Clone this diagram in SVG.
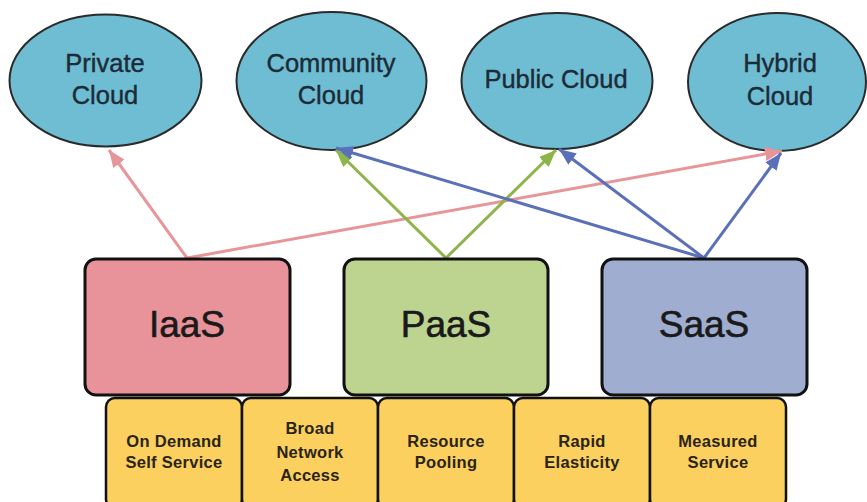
<svg xmlns="http://www.w3.org/2000/svg" width="867" height="502" viewBox="0 0 867 502">
<style>
.cloud{fill:#6fbdd2;stroke:#2a2a2a;stroke-width:2}
.ctext{font-family:"Liberation Sans",Arial,sans-serif;font-size:25.5px;fill:#1c2b38;stroke:#1c2b38;stroke-width:0.4;text-anchor:middle}
.svc{stroke:#111;stroke-width:3}
.stext{font-family:"Liberation Sans",Arial,sans-serif;font-size:37px;fill:#1a1a1a;stroke:#1a1a1a;stroke-width:0.6;text-anchor:middle}
.feat{fill:#fcd05e;stroke:#111;stroke-width:2.5}
.ftext{font-family:"Liberation Sans",Arial,sans-serif;font-size:16.5px;font-weight:bold;letter-spacing:0.3px;fill:#2a2418;text-anchor:middle}
.pink{stroke:#e8959a;stroke-width:3;fill:none}
.green{stroke:#8db54a;stroke-width:3;fill:none}
.blue{stroke:#5a70b8;stroke-width:3;fill:none}
</style>
<defs>
<marker id="ap" markerUnits="userSpaceOnUse" markerWidth="18" markerHeight="14" refX="17" refY="7" orient="auto"><path d="M0,0 L17,7 L0,14 Z" fill="#e8959a"/></marker>
<marker id="ag" markerUnits="userSpaceOnUse" markerWidth="18" markerHeight="14" refX="17" refY="7" orient="auto"><path d="M0,0 L17,7 L0,14 Z" fill="#8db54a"/></marker>
<marker id="ab" markerUnits="userSpaceOnUse" markerWidth="18" markerHeight="14" refX="17" refY="7" orient="auto"><path d="M0,0 L17,7 L0,14 Z" fill="#5a70b8"/></marker>
</defs>
<rect width="867" height="502" fill="#ffffff"/>

<g id="private-cloud"><ellipse class="cloud" cx="105.5" cy="80.5" rx="96" ry="66"/><text class="ctext" x="105" y="72">Private</text><text class="ctext" x="105" y="104">Cloud</text></g>
<g id="community-cloud"><ellipse class="cloud" cx="331.5" cy="81" rx="95" ry="69"/><text class="ctext" x="331" y="72">Community</text><text class="ctext" x="331" y="104">Cloud</text></g>
<g id="public-cloud"><ellipse class="cloud" cx="557" cy="81" rx="95.5" ry="68"/><text class="ctext" x="556" y="88">Public Cloud</text></g>
<g id="hybrid-cloud"><ellipse class="cloud" cx="777" cy="82" rx="89" ry="69"/><text class="ctext" x="780" y="72">Hybrid</text><text class="ctext" x="780" y="105">Cloud</text></g>

<g id="connectors">
<line class="pink" x1="187" y1="258" x2="109" y2="150" marker-end="url(#ap)"/>
<line class="pink" x1="187" y1="258" x2="782" y2="151" marker-end="url(#ap)"/>
<line class="green" x1="446" y1="258" x2="336" y2="150" marker-end="url(#ag)"/>
<line class="green" x1="446" y1="258" x2="556" y2="150" marker-end="url(#ag)"/>
<line class="blue" x1="704" y1="258" x2="336" y2="148" marker-end="url(#ab)"/>
<line class="blue" x1="704" y1="258" x2="559" y2="149" marker-end="url(#ab)"/>
<line class="blue" x1="704" y1="258" x2="781" y2="153" marker-end="url(#ab)"/>
</g>

<g id="iaas"><rect class="svc" x="85" y="259" width="205" height="136" rx="11" fill="#e8939a"/><text class="stext" x="187" y="337">IaaS</text></g>
<g id="paas"><rect class="svc" x="344" y="259" width="204" height="136" rx="11" fill="#bcd490"/><text class="stext" x="446" y="337">PaaS</text></g>
<g id="saas"><rect class="svc" x="602" y="259" width="205" height="136" rx="11" fill="#9eadd0"/><text class="stext" x="704" y="337">SaaS</text></g>

<g id="on-demand"><rect class="feat" x="106" y="398" width="136" height="110" rx="9"/><text class="ftext" x="174" y="447">On Demand</text><text class="ftext" x="174" y="468">Self Service</text></g>
<g id="broad-network"><rect class="feat" x="242" y="398" width="136" height="110" rx="9"/><text class="ftext" x="310" y="434">Broad</text><text class="ftext" x="310" y="458">Network</text><text class="ftext" x="310" y="481">Access</text></g>
<g id="resource-pooling"><rect class="feat" x="378" y="398" width="136" height="110" rx="9"/><text class="ftext" x="446" y="447">Resource</text><text class="ftext" x="446" y="468">Pooling</text></g>
<g id="rapid-elasticity"><rect class="feat" x="514" y="398" width="136" height="110" rx="9"/><text class="ftext" x="582" y="447">Rapid</text><text class="ftext" x="582" y="468">Elasticity</text></g>
<g id="measured-service"><rect class="feat" x="650" y="398" width="136" height="110" rx="9"/><text class="ftext" x="718" y="447">Measured</text><text class="ftext" x="718" y="468">Service</text></g>
</svg>
